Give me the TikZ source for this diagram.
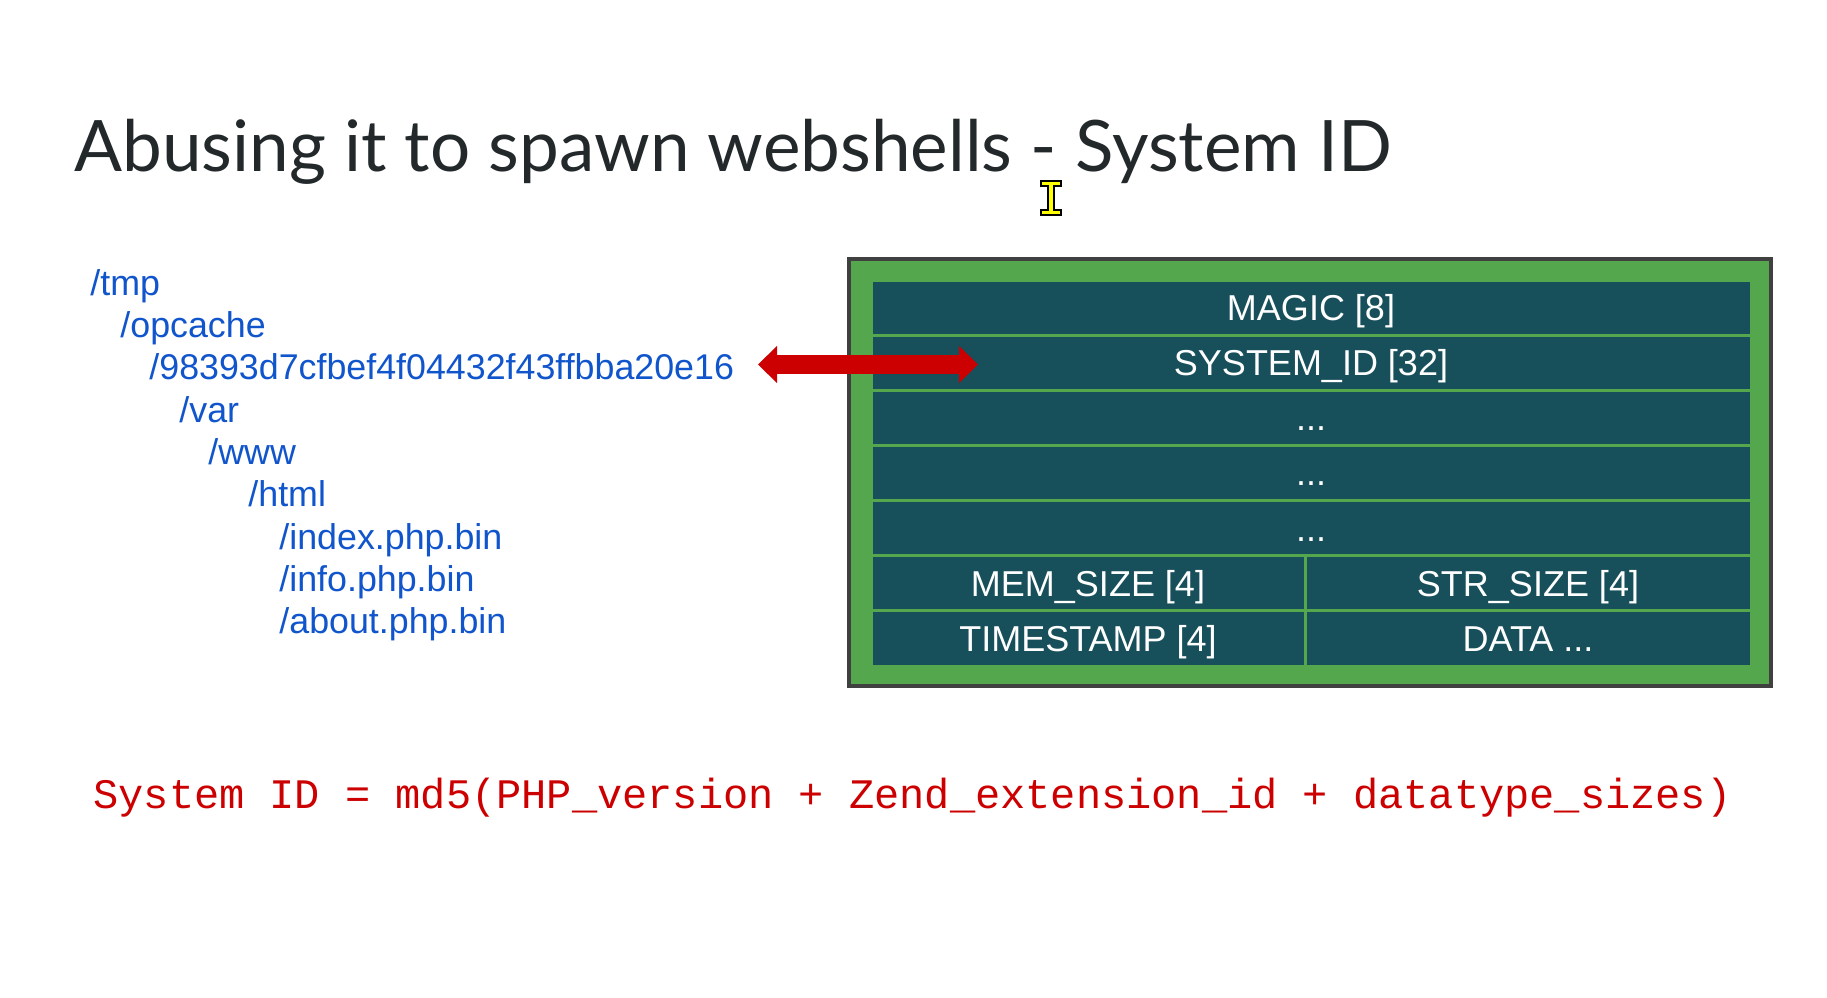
\documentclass[tikz,border=0pt]{standalone}
\usepackage{fontspec}
\setmainfont{Liberation Sans}
\newfontfamily\titlefont{Lato}
\newfontfamily\formulafont{Liberation Mono}
\usetikzlibrary{arrows.meta}
\definecolor{titlegray}{HTML}{23292B}
\definecolor{pathblue}{HTML}{1155CC}
\definecolor{boxgreen}{HTML}{54A74C}
\definecolor{boxteal}{HTML}{174F5B}
\definecolor{boxedge}{HTML}{404040}
\definecolor{arrowred}{HTML}{CC0000}
\definecolor{cursoryellow}{HTML}{FFFF00}
\begin{document}
\begin{tikzpicture}[x=0.5pt,y=-0.5pt,
  titletext/.style={anchor=base west, inner sep=0pt, text=titlegray, font=\titlefont\fontsize{35.5pt}{40pt}\selectfont},
  pathtext/.style={anchor=base west, inner sep=0pt, text=pathblue, font=\fontsize{17.9pt}{20pt}\selectfont},
  framebox/.style={rectangle, draw=boxedge, fill=boxgreen, line width=2pt, inner sep=0pt, minimum width=461pt, minimum height=213.5pt},
  rowbox/.style={rectangle, fill=boxteal, draw=boxgreen, line width=1.5pt, inner sep=0pt, minimum height=27.57pt, text height=12.9pt, text depth=0pt, text=white, font=\fontsize{18pt}{20pt}\selectfont},
  fullrow/.style={rowbox, minimum width=440pt},
  leftcell/.style={rowbox, minimum width=217pt},
  rightcell/.style={rowbox, minimum width=223pt},
  bigarrow/.style={draw=arrowred, line width=9.5pt, {Triangle[length=9.5pt,width=18pt]}-{Triangle[length=9.5pt,width=18pt]}},
  formulatext/.style={anchor=base west, inner sep=0pt, text=arrowred, font=\formulafont\fontsize{21pt}{24pt}\selectfont},
  cursorshape/.style={fill=cursoryellow, draw=black, line width=0.8pt, line join=miter}
]
\useasboundingbox[fill=white] (0,0) rectangle (1827,997);

% title
\node[titletext] (title) at (74,171) {Abusing it to spawn webshells - System ID};

% text cursor
\draw[cursorshape] (1041,181) -- (1061,181) -- (1061,186) -- (1054,186) -- (1054,210) -- (1061,210) -- (1061,215) -- (1041,215) -- (1041,210) -- (1048,210) -- (1048,186) -- (1041,186) -- cycle;

% directory tree
\node[pathtext] (tmp)   at (90,295)    {/tmp};
\node[pathtext] (opc)   at (120,337.4) {/opcache};
\node[pathtext] (hash)  at (149,379.7) {/98393d7cfbef4f04432f43ffbba20e16};
\node[pathtext] (var)   at (179,422)   {/var};
\node[pathtext] (www)   at (208,464.4) {/www};
\node[pathtext] (html)  at (248,506.7) {/html};
\node[pathtext] (idx)   at (279,549)   {/index.php.bin};
\node[pathtext] (info)  at (279,591.4) {/info.php.bin};
\node[pathtext] (about) at (279,633.7) {/about.php.bin};

% file structure box
\node[framebox] (frame) at (1310,472.5) {};
\node[fullrow] (magic) at (1311,307.6) {MAGIC [8]};
\node[fullrow] (sysid) at (1311,362.7) {SYSTEM\_ID [32]};
\node[fullrow] (r3)    at (1311,417.9) {...};
\node[fullrow] (r4)    at (1311,473.0) {...};
\node[fullrow] (r5)    at (1311,528.2) {...};
\node[leftcell]  (mem)  at (1088,583.3) {MEM\_SIZE [4]};
\node[rightcell] (str)  at (1528,583.3) {STR\_SIZE [4]};
\node[leftcell]  (ts)   at (1088,638.5) {TIMESTAMP [4]};
\node[rightcell] (data) at (1528,638.5) {DATA ...};

% red double arrow
\coordinate (aL) at (758,364.5);
\coordinate (aR) at (978,364.5);
\draw[bigarrow] (aL) -- (aR);

% formula
\node[formulatext] (formula) at (93,808) {System ID = md5(PHP\_version + Zend\_extension\_id + datatype\_sizes)};
\end{tikzpicture}
\end{document}
